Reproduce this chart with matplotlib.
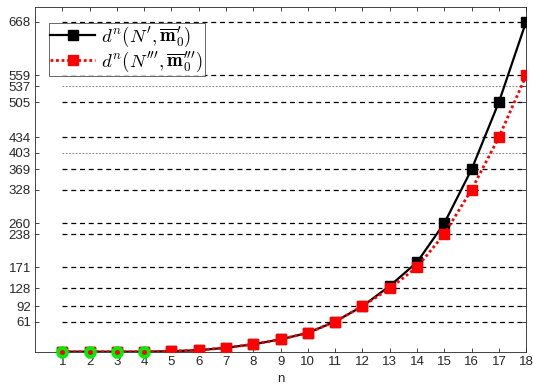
import matplotlib
matplotlib.use("Agg")
import matplotlib.pyplot as plt

n = list(range(1, 19))
d_black = [0, 0, 0, 0, 1, 3, 8, 15, 25, 38, 61, 92, 133, 181, 260, 369, 505, 668]
d_red = [0, 0, 0, 0, 1, 3, 8, 15, 25, 38, 61, 92, 128, 171, 238, 328, 434, 559]
green_n = [1, 2, 3, 4]
green_v = [0, 0, 0, 0]
ref_dashed = [61, 92, 128, 171, 238, 260, 328, 369, 434, 505, 559, 668]
ref_dotted = [403, 537]
yticks = [61, 92, 128, 171, 238, 260, 328, 369, 403, 434, 505, 537, 559, 668]
label_black = r"$d^n(N', \overline{\mathbf{m}}_0')$"
label_red = r"$d^n(N''', \overline{\mathbf{m}}_0''')$"

plt.rcParams['mathtext.fontset'] = 'cm'
plt.rcParams['font.family'] = ['Liberation Sans', 'DejaVu Sans']

fig = plt.figure(figsize=(5.33, 3.89), dpi=100)
ax = fig.add_axes([0.0657, 0.0959, 0.9215, 0.8868])

for v in ref_dashed:
    ax.plot([n[0], n[-1]], [v, v], color='black', lw=0.9, ls=(0, (4, 3)), zorder=1)
for v in ref_dotted:
    ax.plot([n[0], n[-1]], [v, v], color='#888888', lw=0.8, ls=(0, (1.5, 1.5)), zorder=1)

ax.plot(n, d_black, color='black', lw=1.6, marker='s', ms=6.8, mfc='black', mec='black',
        label=label_black, zorder=3)
ax.plot(n, d_red, color='red', lw=2.0, ls=(0, (1, 1)), marker='s', ms=7.3, mfc='red', mec='red',
        label=label_red, zorder=4)
ax.plot(green_n, green_v, ls='none', marker='o', ms=8, mfc='#00ee00', mec='#00ee00',
        zorder=5, clip_on=False)
ax.plot(green_n, green_v, ls='none', marker='o', ms=2.6, mfc='red', mec='red',
        zorder=6, clip_on=False)

ax.set_xlim(0, 18)
ax.set_ylim(0, 698)
ax.set_xticks(n)
ax.set_yticks(yticks)
ax.tick_params(direction='in', top=True, right=True, labelsize=9.5, length=3,
               colors='#262626', width=0.6, pad=3)
for s in ax.spines.values():
    s.set_color('#262626')
    s.set_linewidth(0.6)
ax.set_xlabel('n', fontsize=9.5, color='#262626', labelpad=4)

leg = ax.legend(loc='upper left', bbox_to_anchor=(0.0275, 0.953), fontsize=13.5,
                handlelength=2.4, frameon=True, fancybox=False, edgecolor='#262626',
                borderpad=0.1, labelspacing=0.05, handletextpad=0.3, borderaxespad=0)
leg.get_frame().set_linewidth(0.6)
leg.set_zorder(10)

fig.savefig('out.png', dpi=100)
